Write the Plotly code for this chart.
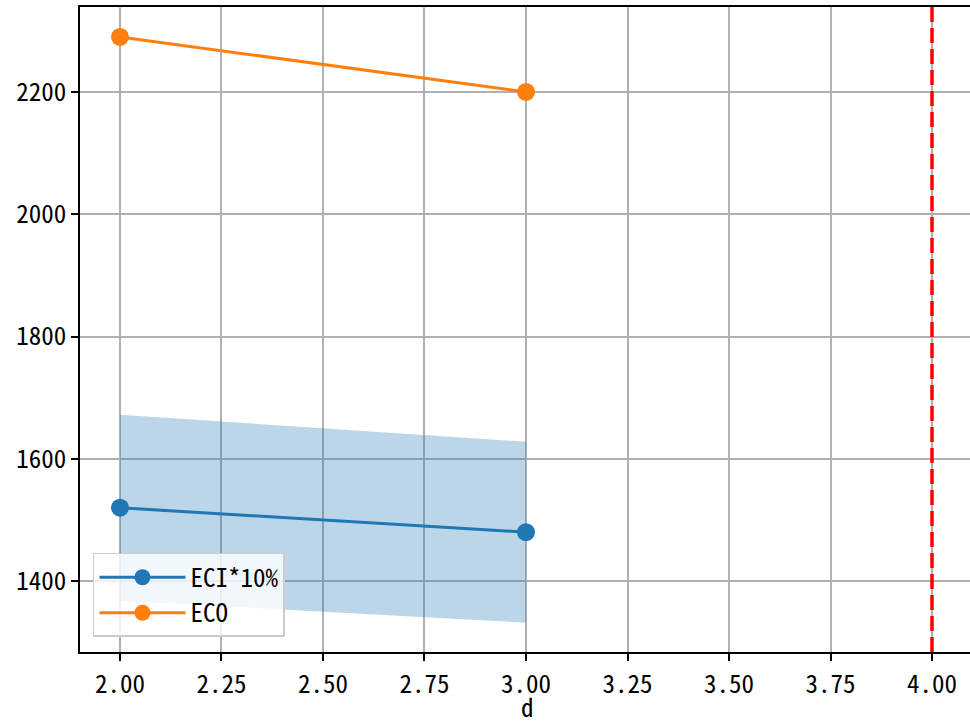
import plotly.graph_objects as go

x_vals = [2.0, 3.0]
eci_vals = [1520, 1480]
eco_vals = [2290, 2200]
eci_upper = [1672, 1628]
eci_lower = [1368, 1332]
vline_x = 4.0
x_ticks = [2.0, 2.25, 2.5, 2.75, 3.0, 3.25, 3.5, 3.75, 4.0]
y_ticks = [1400, 1600, 1800, 2000, 2200]
x_label = "d"

FONT = "Noto Sans Mono CJK JP, Noto Sans CJK JP, DejaVu Sans Mono, monospace"
FS = 25

fig = go.Figure()
fig.add_trace(go.Scatter(x=x_vals, y=eci_upper, mode="lines", line=dict(width=0),
                         showlegend=False, hoverinfo="skip"))
fig.add_trace(go.Scatter(x=x_vals, y=eci_lower, mode="lines", line=dict(width=0),
                         fill="tonexty", fillcolor="rgba(31,119,180,0.3)",
                         showlegend=False, hoverinfo="skip"))
fig.add_trace(go.Scatter(x=x_vals, y=eci_vals, mode="lines+markers", name="ECI*10%",
                         line=dict(color="#1f77b4", width=3),
                         marker=dict(size=18, color="#1f77b4")))
fig.add_trace(go.Scatter(x=x_vals, y=eco_vals, mode="lines+markers", name="ECO",
                         line=dict(color="#ff7f0e", width=3),
                         marker=dict(size=18, color="#ff7f0e")))

fig.add_shape(type="line", x0=vline_x, x1=vline_x, xref="x", y0=0, y1=1, yref="paper",
              line=dict(color="red", width=3.5, dash="15px,6px"))

fig.add_annotation(text=x_label, x=(527 - 80) / 890, xref="paper", xanchor="center",
                   y=-73 / 645, yref="paper", yanchor="bottom", showarrow=False,
                   borderpad=0, font=dict(family=FONT, size=FS, color="black"))

fig.update_layout(
    width=970, height=725,
    margin=dict(l=80, r=0, t=7, b=73),
    plot_bgcolor="white", paper_bgcolor="white",
    font=dict(family=FONT, size=FS, color="black"),
    legend=dict(x=0.0146, y=0.0233, xanchor="left", yanchor="bottom",
                traceorder="normal",
                bgcolor="rgba(255,255,255,0.8)", bordercolor="#cccccc", borderwidth=1.5,
                font=dict(family=FONT, size=FS), itemwidth=86, tracegroupgap=0),
    showlegend=True,
)
fig.update_xaxes(range=[1.9015, 4.0936], tickvals=x_ticks,
                 ticktext=[f"{v:.2f}" for v in x_ticks],
                 showgrid=True, gridcolor="#b0b0b0", gridwidth=1.5,
                 showline=True, linecolor="black", linewidth=1.5, mirror=True,
                 ticks="outside", ticklen=7, tickwidth=1.5, tickcolor="black",
                 ticklabelstandoff=2, automargin=False, zeroline=False)
fig.update_yaxes(range=[1284, 2339], tickvals=y_ticks,
                 showgrid=True, gridcolor="#b0b0b0", gridwidth=1.5,
                 showline=True, linecolor="black", linewidth=1.5, mirror=False,
                 ticks="outside", ticklen=7, tickwidth=1.5, tickcolor="black",
                 automargin=False, zeroline=False)

fig.write_html("out.html", config={"displayModeBar": False},
               post_script="document.body.style.margin='0';")
